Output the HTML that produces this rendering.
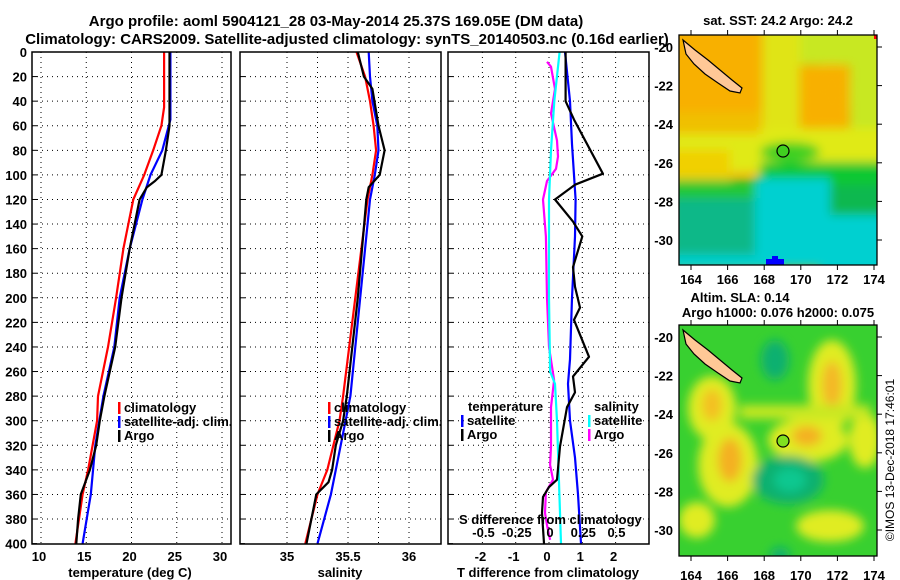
<!DOCTYPE html>
<html><head><meta charset="utf-8"><style>
body{margin:0;background:#fff;}
svg{display:block;font-family:"Liberation Sans",sans-serif;font-weight:bold;}
</style></head><body>
<svg id="chart" width="900" height="580" viewBox="0 0 900 580" xmlns="http://www.w3.org/2000/svg">
<defs>
<clipPath id="m1c"><rect x="679" y="35" width="198" height="230"/></clipPath>
<clipPath id="m2c"><rect x="679" y="325" width="198" height="231"/></clipPath>
<filter id="bl" x="-20%" y="-20%" width="140%" height="140%"><feGaussianBlur stdDeviation="5"/></filter>
<filter id="bl2" x="-20%" y="-20%" width="140%" height="140%"><feGaussianBlur stdDeviation="5"/></filter>
</defs>
<text x="336" y="26" font-size="15" text-anchor="middle">Argo profile: aoml 5904121_28 03-May-2014 25.37S 169.05E (DM data)</text>
<text x="347" y="44" font-size="15" text-anchor="middle">Climatology: CARS2009. Satellite-adjusted climatology: synTS_20140503.nc (0.16d earlier)</text>
<g id="panels"></g>
<!-- SST map -->
<g>
<text x="778" y="25" font-size="13" text-anchor="middle">sat. SST: 24.2 Argo: 24.2</text>
<g clip-path="url(#m1c)">
<rect x="679" y="35" width="198" height="230" fill="#f8b000"/>
<g filter="url(#bl2)">
<rect x="762" y="25" width="38" height="110" fill="#e0e418"/>
<rect x="800" y="25" width="90" height="40" fill="#c8e820"/>
<rect x="850" y="55" width="40" height="90" fill="#c8e820"/>
<ellipse cx="832" cy="92" rx="16" ry="28" fill="#f8b000"/>
<rect x="670" y="128" width="220" height="45" fill="#e0ea18"/>
<rect x="670" y="112" width="90" height="22" fill="#f0c000"/>
<rect x="670" y="150" width="60" height="30" fill="#f0d000"/>
<ellipse cx="790" cy="152" rx="30" ry="10" fill="#40d020"/>
<rect x="760" y="162" width="130" height="30" fill="#10c830"/>
<rect x="670" y="180" width="90" height="22" fill="#20c830"/>
<rect x="830" y="185" width="60" height="30" fill="#10b850"/>
<rect x="670" y="198" width="90" height="60" fill="#10b888"/>
<rect x="755" y="178" width="75" height="90" fill="#00d0d0"/>
<rect x="820" y="215" width="70" height="60" fill="#00d0d0"/>
<rect x="670" y="255" width="100" height="15" fill="#00d0d0"/>
</g>
<rect x="766" y="259" width="18" height="6" fill="#0000ff"/>
<rect x="772" y="256" width="6" height="4" fill="#0000ff"/>
<rect x="874" y="35" width="3" height="4" fill="#ff0000"/>
<polygon points="683,40 695,50 708,60 720,70 732,80 742,88 740,93 730,91 718,83 705,74 694,64 686,54" fill="#ffc896" stroke="#000" stroke-width="1.2"/>
<circle cx="783" cy="151" r="6" fill="#40d020" stroke="#000" stroke-width="1.2"/>
</g>
<rect x="679" y="35" width="198" height="230" fill="none" stroke="#000" stroke-width="1.3"/>
</g>
<!-- SLA map -->
<g>
<text x="740" y="302" font-size="13" text-anchor="middle">Altim. SLA: 0.14</text>
<text x="778" y="317" font-size="13" text-anchor="middle">Argo h1000: 0.076 h2000: 0.075</text>
<g clip-path="url(#m2c)">
<rect x="679" y="325" width="198" height="231" fill="#38d030"/>
<g filter="url(#bl)">
<ellipse cx="712" cy="408" rx="24" ry="32" fill="#e0ec20"/>
<ellipse cx="712" cy="405" rx="10" ry="16" fill="#f4c020"/>
<ellipse cx="728" cy="465" rx="30" ry="42" fill="#e0ec20"/>
<ellipse cx="730" cy="460" rx="12" ry="22" fill="#f4b020"/>
<ellipse cx="808" cy="440" rx="40" ry="22" fill="#e0ec20"/>
<ellipse cx="807" cy="436" rx="15" ry="10" fill="#f4b020"/>
<ellipse cx="832" cy="385" rx="24" ry="45" fill="#e0ec20"/>
<ellipse cx="832" cy="385" rx="10" ry="24" fill="#f4b828"/>
<ellipse cx="865" cy="440" rx="16" ry="28" fill="#e0ec20"/>
<ellipse cx="830" cy="526" rx="34" ry="16" fill="#e0ec20"/>
<ellipse cx="697" cy="520" rx="18" ry="18" fill="#e0ec20"/>
<rect x="740" y="405" width="130" height="14" fill="#c8e820"/>
<ellipse cx="775" cy="360" rx="14" ry="20" fill="#10b070"/>
<ellipse cx="788" cy="480" rx="36" ry="24" fill="#10b070"/>
<ellipse cx="790" cy="480" rx="16" ry="12" fill="#10c890"/>
<ellipse cx="780" cy="555" rx="10" ry="8" fill="#10b070"/>
</g>
<polygon points="683,330 695,340 708,350 720,360 732,370 742,378 740,383 730,381 718,373 705,364 694,354 686,344" fill="#ffc896" stroke="#000" stroke-width="1.2"/>
<circle cx="783" cy="441" r="6" fill="#80e020" stroke="#000" stroke-width="1.2"/>
</g>
<rect x="679" y="325" width="198" height="231" fill="none" stroke="#000" stroke-width="1.3"/>
</g>
<text transform="translate(894,460) rotate(-90)" font-size="12" font-weight="normal" text-anchor="middle">©IMOS 13-Dec-2018 17:46:01</text>
</svg>
<script>
// ---- data ----
const depthTicks=[0,20,40,60,80,100,120,140,160,180,200,220,240,260,280,300,320,340,360,380,400];
const tempTicks=[10,15,20,25,30];
const salTicks=[35,35.5,36];
const salGrid=[35,35.25,35.5,35.75,36];
const dTTicks=[-2,-1,0,1,2];
const dSTicks=[-0.5,-0.25,0,0.25,0.5];
const lonTicks=[164,166,168,170,172,174];
const latTicks=[-20,-22,-24,-26,-28,-30];
const tClimDepth=[0,45,60,80,100,120,160,200,240,280,300,340,360,400];
const tClimVal=[23.6,23.6,23.3,22.4,21.4,20.2,19.1,18.3,17.4,16.3,16.2,15.2,14.6,13.8];
const tSatDepth=[0,55,80,100,120,160,200,240,280,320,360,400];
const tSatVal=[24.3,24.3,23.4,22.1,21.2,19.8,18.7,18.1,16.9,16.0,15.5,14.6];
const tArgoDepth=[0,60,80,100,105,110,120,160,200,240,260,280,300,320,340,350,360,380,400];
const tArgoVal=[24.2,24.2,23.8,23.3,22.6,21.7,20.9,19.8,18.9,18.2,17.6,17.0,16.5,16.1,15.4,14.9,14.4,14.1,13.9];
const sClimDepth=[0,20,40,60,80,100,120,200,280,300,340,360,400];
const sClimVal=[35.57,35.64,35.68,35.71,35.73,35.70,35.66,35.56,35.46,35.43,35.33,35.25,35.15];
const sSatDepth=[0,20,40,60,80,100,120,200,280,300,340,360,400];
const sSatVal=[35.67,35.68,35.70,35.74,35.75,35.72,35.68,35.60,35.52,35.48,35.40,35.36,35.25];
const sArgoDepth=[0,20,30,60,80,100,110,120,200,280,300,320,340,350,360,380,400];
const sArgoVal=[35.58,35.63,35.70,35.75,35.80,35.76,35.67,35.65,35.58,35.49,35.46,35.40,35.37,35.34,35.24,35.20,35.16];
const dTSatDepth=[0,40,75,120,150,200,250,270,300,330,360,400];
const dTSatVal=[0.48,0.63,0.69,0.80,0.78,0.69,0.63,0.57,0.63,0.78,0.87,0.96];
const dTArgoDepth=[0,40,55,99,108,120,138,150,175,191,208,218,248,264,277,289,321,348,354,362,375,400];
const dTArgoVal=[0.5,0.5,0.75,1.62,0.78,0.18,0.72,1.0,0.72,0.78,0.93,0.75,1.2,0.72,0.78,0.54,0.33,0.24,0,-0.18,-0.21,-0.15];
const dSSatDepth=[0,40,80,120,200,260,270,300,350,400];
const dSSatVal=[0.08,0.04,0.015,0,0,0.008,0.045,0.06,0.075,0.09];
const dSArgoDepth=[8,12,17,30,50,72,85,95,105,120,150,200,240,267,289,321,336,348,358,375,385,397];
const dSArgoVal=[-0.015,0.015,0.023,0.045,0.015,0.06,0.068,0.053,-0.015,-0.045,-0.023,-0.015,0,0.038,0.015,0.015,0.008,0.03,-0.023,-0.03,-0.015,0.008];
// ---- scales ----
const yD=d=>52+d*1.229;
const xT=t=>41+(t-10)*9.05;
const xS=s=>287+(s-35)*122;
const xdT=v=>549+v*33.3;
const xdS=v=>549+v*133;
const NS='http://www.w3.org/2000/svg';
const root=document.getElementById('panels');
function mk(tag,attrs,parent){const e=document.createElementNS(NS,tag);for(const k in attrs)e.setAttribute(k,attrs[k]);(parent||root).appendChild(e);return e;}
function txt(s,x,y,anchor,size,parent){const e=mk('text',{x:x,y:y,'text-anchor':anchor,'font-size':size},parent);e.textContent=s;return e;}
const panels=[{x0:32,x1:231,name:'temperature'},{x0:240,x1:441,name:'salinity'},{x0:448,x1:649,name:'difference'}];
panels.forEach((p,i)=>{
 const g=mk('g',{});
 
 
 depthTicks.forEach(d=>{
  if(d>0&&d<400){const l=mk('line',{x1:p.x0,x2:p.x1,y1:yD(d),y2:yD(d),stroke:'#000','stroke-width':1,'stroke-dasharray':'1,4'},g);
  
  }
  mk('line',{x1:p.x0,x2:p.x0+5,y1:yD(d),y2:yD(d),stroke:'#000'},g);
 });
 p.g=g;
});
depthTicks.forEach(d=>{const t=txt(String(d),27,yD(d)+5,'end',13);
 
 });
tempTicks.forEach(t=>{const l=mk('line',{x1:xT(t),x2:xT(t),y1:52,y2:544,stroke:'#000','stroke-dasharray':'1,4'},panels[0].g);
 
 
 const lb=txt(String(t),xT(t)-2,561,'middle',13);
 
 });
salGrid.forEach(s=>{const l=mk('line',{x1:xS(s),x2:xS(s),y1:52,y2:544,stroke:'#000','stroke-dasharray':'1,4'},panels[1].g);
 
 });
salTicks.forEach(s=>{const lb=txt(String(s),xS(s),561,'middle',13);
 
 });
dTTicks.forEach(v=>{const l=mk('line',{x1:xdT(v),x2:xdT(v),y1:52,y2:544,stroke:'#000','stroke-dasharray':'1,4'},panels[2].g);
 
 
 const lb=txt(String(v),xdT(v)-2,561,'middle',13);
 
 });
dSTicks.forEach(v=>{const lb=txt(String(v),xdS(v)+1,537,'middle',13);
 
 });
function series(dArr,vArr,xf,color,name,g){
 const pts=dArr.map((d,i)=>xf(vArr[i]).toFixed(1)+','+yD(d).toFixed(1)).join(' ');
 const l=mk('polyline',{points:pts,fill:'none',stroke:color,'stroke-width':2.2,'stroke-linejoin':'round'},g);
 
 
}
series(tClimDepth,tClimVal,xT,'#ff0000','temperature-climatology-line',panels[0].g);
series(tSatDepth,tSatVal,xT,'#0000ff','temperature-satellite-line',panels[0].g);
series(tArgoDepth,tArgoVal,xT,'#000000','temperature-argo-line',panels[0].g);
series(sClimDepth,sClimVal,xS,'#ff0000','salinity-climatology-line',panels[1].g);
series(sSatDepth,sSatVal,xS,'#0000ff','salinity-satellite-line',panels[1].g);
series(sArgoDepth,sArgoVal,xS,'#000000','salinity-argo-line',panels[1].g);
series(dSArgoDepth,dSArgoVal,xdS,'#ff00ff','sdiff-argo-line',panels[2].g);
series(dSSatDepth,dSSatVal,xdS,'#00ffff','sdiff-satellite-line',panels[2].g);
series(dTSatDepth,dTSatVal,xdT,'#0000ff','tdiff-satellite-line',panels[2].g);
series(dTArgoDepth,dTArgoVal,xdT,'#000000','tdiff-argo-line',panels[2].g);
panels.forEach(p=>{const r=mk('rect',{x:p.x0,y:52,width:p.x1-p.x0,height:492,fill:'none',stroke:'#000','stroke-width':1.5},p.g);
 
 });
function legend(x,y,color,label,name){
 const g=mk('g',{});
 
 
 mk('rect',{x:x,y:y-10,width:2.5,height:12,fill:color},g);
 txt(label,x+6,y,'start',13,g);
}
legend(118,412,'#ff0000','climatology','legend-climatology');
legend(118,426,'#0000ff','satellite-adj. clim.','legend-satellite-adj');
legend(118,440,'#000000','Argo','legend-argo');
legend(328,412,'#ff0000','climatology','legend-climatology-2');
legend(328,426,'#0000ff','satellite-adj. clim.','legend-satellite-adj-2');
legend(328,440,'#000000','Argo','legend-argo-2');
let t=txt('temperature',468,411,'start',13);
legend(461,425,'#0000ff','satellite','legend-t-satellite');
legend(461,439,'#000000','Argo','legend-t-argo');
t=txt('salinity',594,411,'start',13);
legend(588,425,'#00ffff','satellite','legend-s-satellite');
legend(588,439,'#ff00ff','Argo','legend-s-argo');
t=txt('S difference from climatology',459,524,'start',13);
t=txt('temperature (deg C)',130,577,'middle',13);
t=txt('salinity',340,577,'middle',13);
t=txt('T difference from climatology',548,577,'middle',13);
const mapLonX=lon=>691+(lon-164)*18.3;
[[47,277,'sst'],[337,573,'sla']].forEach(([lat0y,labY,nm])=>{
 const top=nm==='sst'?35:325, bot=nm==='sst'?265:556;
 lonTicks.forEach(lon=>{
  mk('line',{x1:mapLonX(lon),x2:mapLonX(lon),y1:top,y2:top-5,stroke:'#000'});
  mk('line',{x1:mapLonX(lon),x2:mapLonX(lon),y1:bot,y2:bot+5,stroke:'#000'});
  const lb=txt(String(lon),mapLonX(lon),labY+7,'middle',13);
  
  
 });
 latTicks.forEach(lat=>{
  const y=lat0y+(-20-lat)*19.3;
  mk('line',{x1:877,x2:882,y1:y,y2:y,stroke:'#000'});
  const lb=txt(String(lat),673,y+5,'end',13);
  
  
 });
});
</script>
</body></html>
